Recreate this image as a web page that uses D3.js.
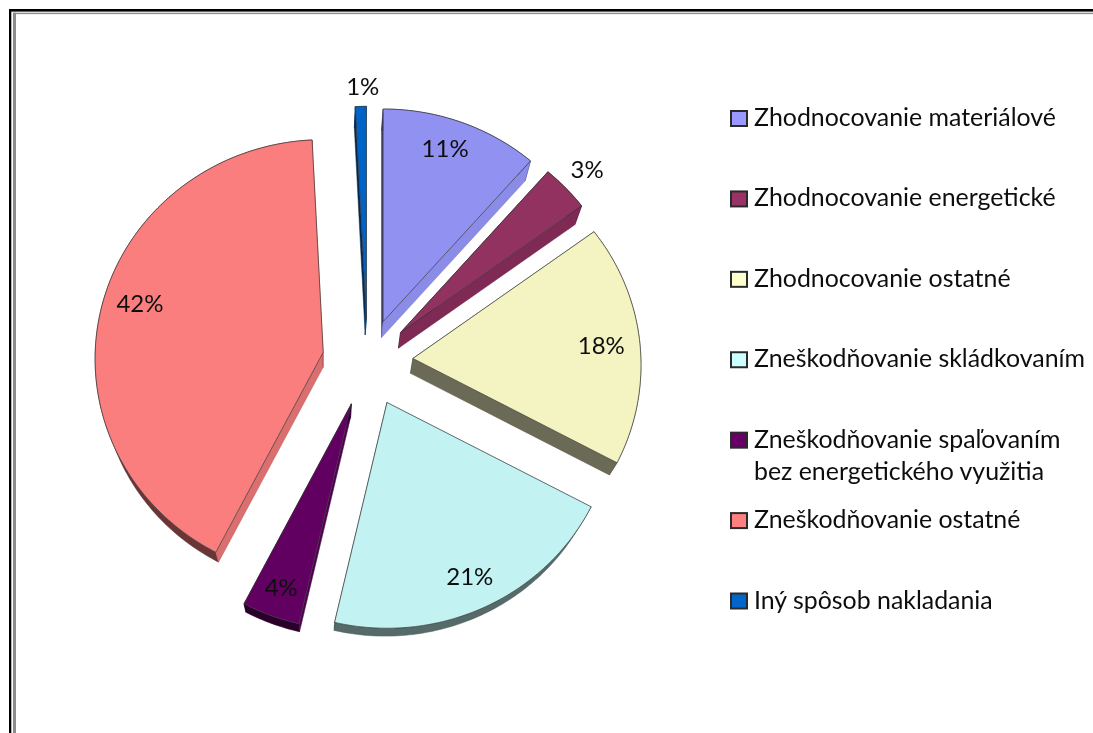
<!DOCTYPE html>
<html><head><meta charset="utf-8">
<script src="https://cdn.jsdelivr.net/npm/d3@7/dist/d3.min.js"></script>
<style>html,body{margin:0;padding:0;background:#fff}svg{display:block}text{font-family:Lato,"Noto Sans",sans-serif;fill:#111}</style>
</head><body><svg id="c" width="1093" height="733"></svg>
<script>
const categories = ["Zhodnocovanie materiálové","Zhodnocovanie energetické","Zhodnocovanie ostatné","Zneškodňovanie skládkovaním","Zneškodňovanie spaľovaním|bez energetického využitia","Zneškodňovanie ostatné","Iný spôsob nakladania"];
const values = [11.49,3.49,17.8,20.8,4.0,41.62,0.8];
const colors = ["#9999FF","#993366","#FFFFCC","#CCFFFF","#660066","#FF8080","#0066CC"];
const topFade = [0.945,0.95,0.955,0.95,0.96,0.985,0.97];
const labelReach = [0.86,1.13,0.83,0.85,0.87,0.84,1.095];
const labelTurn = [-0.03,0,0,0,0,0.055,0.01];

const W=1093,H=733, cx=367.5, cy=361.5, rx=228, ry=219, persp=0.03, explode=0.2;
const vanish=[320,932], depth=0.026;
const svg=d3.select("#c");
const defs=svg.append("defs");
defs.append("filter").attr("id","soft").attr("x","-5%").attr("y","-5%").attr("width","110%").attr("height","110%")
  .append("feGaussianBlur").attr("stdDeviation",0.4);

// frame
const frame=svg.append("g");
frame.append("rect").attr("x",9).attr("y",9).attr("width",W).attr("height",2.6).attr("fill","#000");
frame.append("rect").attr("x",9).attr("y",9).attr("width",2.3).attr("height",H).attr("fill","#000");
frame.append("rect").attr("x",13).attr("y",12.7).attr("width",W).attr("height",1.4).attr("fill","#8c8c8c");
frame.append("rect").attr("x",13).attr("y",12.7).attr("width",3).attr("height",H).attr("fill","#8c8c8c");

const pie=d3.pie().value(d=>d).sort(null)(values);
const proj=(a,r=1)=>{const u=Math.sin(a),v=Math.cos(a),w=1+persp*v;return [r*rx*u/w,-r*ry*v/w];};
const down=p=>[p[0]+(vanish[0]-p[0])*depth,p[1]+(vanish[1]-p[1])*depth];
const shade=d3.scaleLinear().domain([0,100,130,145,172,360]).range([.9,.78,.92,.82,.42,.42]).clamp(true);
const line=d3.line();
const deg=a=>((a*180/Math.PI)%360+360)%360;
const dim=(c,k)=>{const o=d3.rgb(c);return d3.rgb(o.r*k,o.g*k,o.b*k).formatHex();};

const order=d3.range(pie.length).sort((i,j)=>{
  const m=k=>Math.cos((pie[k].startAngle+pie[k].endAngle)/2);return m(j)-m(i);});
const g=svg.append("g").attr("filter","url(#soft)");

order.forEach(i=>{
  const s=pie[i],mid=(s.startAngle+s.endAngle)/2,off=proj(mid,explode);
  const apex=[cx+off[0],cy+off[1]];
  const pt=a=>{const p=proj(a);return [apex[0]+p[0],apex[1]+p[1]];};
  const n=Math.max(4,Math.ceil((s.endAngle-s.startAngle)*60));
  const angs=d3.range(n+1).map(k=>s.startAngle+(s.endAngle-s.startAngle)*k/n);
  const rim=angs.map(pt);
  const wall=(pts,k)=>g.append("path").attr("d",line(pts)+"Z")
     .attr("fill",dim(colors[i],k)).attr("stroke",dim(colors[i],k*.85)).attr("stroke-width",.5).attr("stroke-linejoin","round");
  // outer rim wall, then the two cut faces
  wall([...rim,...rim.map(down).reverse()],0.42);
  wall([apex,rim[0],down(rim[0]),down(apex)],shade(deg(s.startAngle-Math.PI/2)));
  wall([apex,rim[n],down(rim[n]),down(apex)],shade(deg(s.endAngle+Math.PI/2)));
  // top surface
  g.append("path").attr("d",line([apex,...rim])+"Z")
    .attr("fill",dim(colors[i],topFade[i])).attr("stroke","#3a3a3a").attr("stroke-width",.7).attr("stroke-linejoin","round");
});

// percentage labels
const fmt=d3.format(".0f");
const lab=svg.append("g").attr("filter","url(#soft)");
pie.forEach((s,i)=>{
  const mid=(s.startAngle+s.endAngle)/2,off=proj(mid,explode),p=proj(mid+labelTurn[i],labelReach[i]);
  lab.append("text").attr("x",cx+off[0]+p[0]).attr("y",cy+off[1]+p[1]).attr("dy","0.35em")
    .attr("text-anchor","middle").attr("font-size",24).text(fmt(s.value)+"%");
});

// legend
const yL=d3.scalePoint().domain(categories).range([118.5,601]);
const leg=svg.append("g").attr("filter","url(#soft)");
categories.forEach((c,i)=>{
  const y=yL(c);
  leg.append("rect").attr("x",731).attr("y",y-7.5).attr("width",16).attr("height",15)
    .attr("fill",colors[i]).attr("stroke","#2b2b2b").attr("stroke-width",2);
  c.split("|").forEach((t,j)=>{
    leg.append("text").attr("x",754).attr("y",y+7.5+j*32).attr("font-size",24.9).text(t);
  });
});
</script></body></html>
